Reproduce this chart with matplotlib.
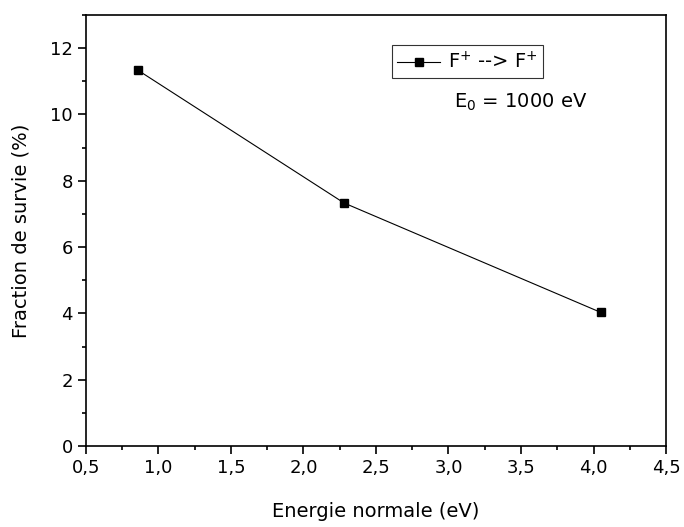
import numpy as np
import matplotlib.pyplot as plt
from matplotlib.ticker import MultipleLocator, FuncFormatter

# data
energie = [0.86, 2.28, 4.05]
survie = [11.33, 7.33, 4.03]

fig = plt.figure(figsize=(6.84, 5.27), dpi=100)
ax = fig.add_axes([0.1257, 0.1537, 0.848, 0.8178])

ax.plot(energie, survie, color='black', lw=0.8, marker='s', ms=6,
        label='F$^{+}$ --> F$^{+}$')

ax.set_xlim(0.5, 4.5)
ax.set_ylim(0, 13)
ax.xaxis.set_major_locator(MultipleLocator(0.5))
ax.xaxis.set_minor_locator(MultipleLocator(0.25))
ax.yaxis.set_major_locator(MultipleLocator(2))
ax.yaxis.set_minor_locator(MultipleLocator(1))
ax.xaxis.set_major_formatter(FuncFormatter(lambda v, p: f"{v:.1f}".replace('.', ',')))
ax.tick_params(which='both', direction='out', top=False, right=False, labelsize=13, width=1.2)
ax.tick_params(which='major', length=6)
ax.tick_params(which='minor', length=3)
for s in ax.spines.values():
    s.set_linewidth(1.2)

ax.set_xlabel('Energie normale (eV)', fontsize=14, labelpad=18)
ax.set_ylabel('Fraction de survie (%)', fontsize=14, labelpad=14)

leg = ax.legend(loc='upper left', bbox_to_anchor=(0.527, 0.93), fontsize=14,
                frameon=True, fancybox=False, edgecolor='black',
                handlelength=2.2, borderpad=0.3, handletextpad=0.4,
                borderaxespad=0)
leg.get_frame().set_linewidth(0.8)
ax.text(0.634, 0.797, 'E$_0$ = 1000 eV', transform=ax.transAxes, fontsize=14,
        ha='left', va='center')

fig.savefig('out.png', dpi=100)
